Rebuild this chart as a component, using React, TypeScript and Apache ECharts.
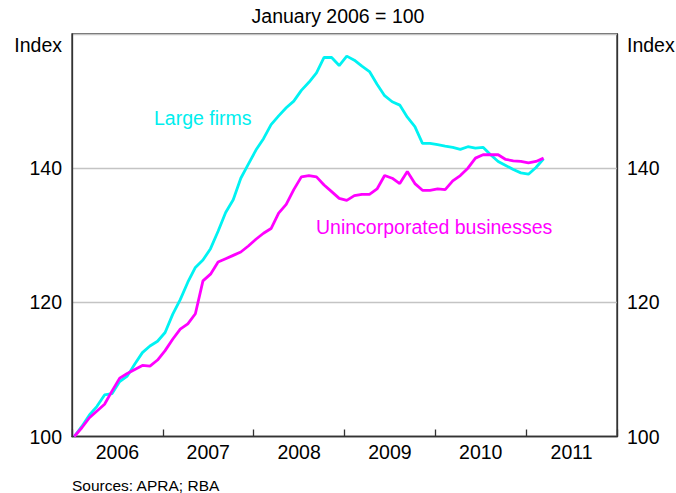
import React, { useEffect, useRef } from "react";
import * as echarts from "echarts";

const years = ["2006", "2007", "2008", "2009", "2010", "2011"];
const yTicks = [100, 120, 140, 160];

// Monthly index values, January 2006 = 100 (Jan 2006 .. Mar 2011)
const largeFirms = [
  100, 101.5, 103.2, 104.5, 106.2, 106.4, 108.2, 109, 110.8, 112.5,
  113.5, 114.2, 115.5, 118.2, 120.4, 123, 125.2, 126.3, 128.0, 130.6,
  133.4, 135.3, 138.5, 140.6, 142.7, 144.4, 146.5, 147.8, 149.0, 150.0,
  151.6, 152.8, 154.2, 156.5, 156.5, 155.3, 156.7, 156.1, 155.2, 154.4,
  152.5, 150.8, 149.9, 149.4, 147.6, 146.2, 143.7, 143.7, 143.5, 143.3,
  143.1, 142.8, 143.2, 143.0, 143.1, 142.0, 141.0, 140.4, 139.8, 139.3,
  139.1, 140.1, 141.4,
];

const unincorporated = [
  100, 101.3, 102.8, 103.8, 104.8, 106.8, 108.7, 109.4, 110.0, 110.6,
  110.5, 111.4, 112.8, 114.5, 116.0, 116.8, 118.3, 123.2, 124.2, 126.0,
  126.5, 127.0, 127.5, 128.4, 129.4, 130.3, 131.0, 133.3, 134.6, 136.8,
  138.7, 138.9, 138.7, 137.5, 136.5, 135.5, 135.2, 135.9, 136.1, 136.1,
  136.9, 138.9, 138.5, 137.7, 139.5, 137.7, 136.7, 136.7, 136.9, 136.8,
  138.1, 138.9, 140.0, 141.5, 142.0, 142.0, 142.0, 141.3, 141.1, 141.0,
  140.8, 141.0, 141.5,
];

const MONTH_OFFSET = 0.3;
const toPoints = (vals: number[]) => vals.map((v, i) => [i + MONTH_OFFSET, v]);

const FONT = "'Liberation Sans', Arial, Helvetica, sans-serif";
const AXIS_COLOR = "#333333";

export default function App() {
  const ref = useRef<HTMLDivElement>(null);

  useEffect(() => {
    if (!ref.current) return;
    const chart = echarts.init(ref.current, undefined, { renderer: "svg" });
    const labelStyle = { fontFamily: FONT, fontSize: 19.5, color: "#000" };
    chart.setOption({
      animation: false,
      backgroundColor: "#ffffff",
      grid: {
        left: 72,
        right: 59,
        top: 34,
        bottom: 56.5,
        show: true,
        borderColor: AXIS_COLOR,
        borderWidth: 1.3,
        backgroundColor: "transparent",
      },
      xAxis: [
        {
          type: "category",
          data: years,
          boundaryGap: true,
          axisLine: { show: true, lineStyle: { color: AXIS_COLOR, width: 1.3 } },
          axisTick: { show: true, inside: true, length: 7, lineStyle: { color: AXIS_COLOR, width: 1.3 } },
          axisLabel: { ...labelStyle, margin: 5 },
          splitLine: { show: false },
        },
        {
          type: "value",
          min: 0,
          max: 72,
          show: false,
        },
      ],
      yAxis: [
        {
          type: "value",
          min: 100,
          max: 160,
          interval: 20,
          position: "left",
          axisLine: { show: true, lineStyle: { color: AXIS_COLOR, width: 1.3 } },
          axisTick: { show: false },
          axisLabel: {
            ...labelStyle,
            margin: 10,
            formatter: (v: number) => (v === 160 ? "" : String(v)),
          },
          splitLine: { show: true, lineStyle: { color: "#c4c4c4", width: 1.3 } },
        },
        {
          type: "value",
          min: 100,
          max: 160,
          interval: 20,
          position: "right",
          axisLine: { show: true, lineStyle: { color: AXIS_COLOR, width: 1.3 } },
          axisTick: { show: false },
          axisLabel: {
            ...labelStyle,
            margin: 10,
            formatter: (v: number) => (v === 160 ? "" : String(v)),
          },
          splitLine: { show: false },
        },
      ],
      series: [
        {
          name: "Large firms",
          type: "line",
          xAxisIndex: 1,
          yAxisIndex: 0,
          data: toPoints(largeFirms),
          showSymbol: false,
          lineStyle: { color: "#00f2f2", width: 2.8 },
          z: 3,
        },
        {
          name: "Unincorporated businesses",
          type: "line",
          xAxisIndex: 1,
          yAxisIndex: 0,
          data: toPoints(unincorporated),
          showSymbol: false,
          lineStyle: { color: "#ff00ff", width: 2.8 },
          z: 4,
        },
      ],
      graphic: [
        {
          type: "text",
          left: "center",
          top: 6,
          style: { text: "January 2006 = 100", font: `19.5px ${FONT}`, fill: "#000" },
        },
        {
          type: "text",
          x: 62,
          y: 45,
          style: { text: "Index", font: `19.5px ${FONT}`, fill: "#000", align: "right", verticalAlign: "middle" },
        },
        {
          type: "text",
          x: 627,
          y: 45,
          style: { text: "Index", font: `19.5px ${FONT}`, fill: "#000", align: "left", verticalAlign: "middle" },
        },
        {
          type: "text",
          x: 154,
          y: 118,
          style: { text: "Large firms", font: `19.5px ${FONT}`, fill: "#00eeee", align: "left", verticalAlign: "middle" },
        },
        {
          type: "text",
          x: 316,
          y: 227,
          style: { text: "Unincorporated businesses", font: `19.5px ${FONT}`, fill: "#ff00ff", align: "left", verticalAlign: "middle" },
        },
        {
          type: "text",
          x: 72,
          y: 485,
          style: { text: "Sources: APRA; RBA", font: `15.5px ${FONT}`, fill: "#000", align: "left", verticalAlign: "middle" },
        },
      ],
    });
    return () => chart.dispose();
  }, []);

  return (
    <div
      ref={ref}
      style={{ position: "absolute", left: 0, top: 0, width: 676, height: 493, background: "#fff" }}
    />
  );
}
